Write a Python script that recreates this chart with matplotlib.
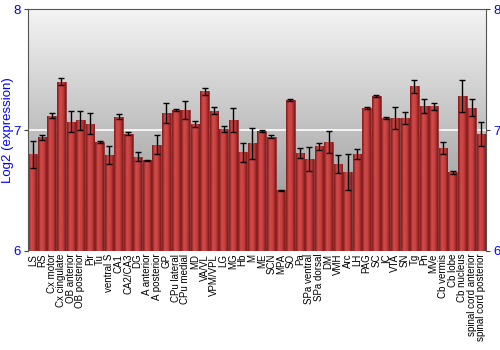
import numpy as np
import matplotlib
matplotlib.use("Agg")
import matplotlib.pyplot as plt
from matplotlib.colors import LinearSegmentedColormap

plt.rcParams["font.family"] = ["Liberation Sans", "DejaVu Sans"]

regions = ["LS", "RS", "Cx motor", "Cx cingulate", "OB anterior", "OB posterior", "Pir", "Tu",
           "ventral S", "CA1", "CA2/CA3", "DG", "A anterior", "A posterior", "GP", "CPu lateral",
           "CPu medial", "MD", "VA/VL", "VPM/VPL", "LG", "MG", "Hb", "M", "ME", "SCN", "MPA", "SO",
           "Pa", "SPa ventral", "SPa dorsal", "DM", "VMH", "Arc", "LH", "PAG", "SC", "IC", "VTA",
           "SN", "Tg", "Pn", "MVe", "Cb vermis", "Cb lobe", "Cb nucleus",
           "spinal cord anterior", "spinal cord posterior"]
expression = [6.80, 6.94, 7.12, 7.40, 7.07, 7.08, 7.05, 6.90,
              6.79, 7.11, 6.97, 6.78, 6.75, 6.88, 7.14, 7.165,
              7.165, 7.05, 7.32, 7.16, 7.005, 7.08, 6.815, 6.89, 6.99, 6.945, 6.50, 7.25,
              6.81, 6.76, 6.865, 6.90, 6.72, 6.65, 6.80, 7.18, 7.28, 7.10, 7.10,
              7.10, 7.36, 7.195, 7.195, 6.85, 6.65, 7.28,
              7.185, 6.97]
errors = [0.11, 0.02, 0.02, 0.03, 0.087, 0.08, 0.087, 0.01,
          0.075, 0.02, 0.015, 0.04, 0.003, 0.08, 0.08, 0.01,
          0.077, 0.025, 0.03, 0.03, 0.025, 0.10, 0.08, 0.13, 0.01, 0.01, 0.003, 0.01,
          0.04, 0.096, 0.03, 0.09, 0.077, 0.15, 0.04, 0.01, 0.01, 0.01, 0.09,
          0.05, 0.05, 0.058, 0.03, 0.05, 0.01, 0.135,
          0.07, 0.10]
yticks = [6, 7, 8]

blue = "#0000ff"
fig = plt.figure(figsize=(5, 3.5), dpi=100)
ax = fig.add_axes([0.056, 0.283, 0.916, 0.691])

x = np.arange(len(regions))
ax.set_xlim(-0.5, len(regions) - 0.5)
ax.set_ylim(6, 8)

# grey background gradient
bg = LinearSegmentedColormap.from_list("bg", ["#8a8a8a", "#f4f4f4"])
ax.imshow(np.linspace(0, 1, 256).reshape(-1, 1), cmap=bg, aspect="auto",
          extent=(-0.5, len(regions) - 0.5, 6, 8), origin="lower", zorder=0)
ax.axhline(7, color="white", lw=1.2, zorder=1)

bars = ax.bar(x, [v - 6 for v in expression], bottom=6, width=0.92,
              color="#b83636", edgecolor="#6e1414", linewidth=0.4, zorder=2)

# shading across each bar
shade = LinearSegmentedColormap.from_list("sh", ["#7e1a1a", "#d44c4c", "#c43e3e", "#7e1a1a"])
grad = np.linspace(0, 1, 64).reshape(1, -1)
for b in bars:
    im = ax.imshow(grad, cmap=shade, aspect="auto", zorder=2.5,
                   extent=(b.get_x(), b.get_x() + b.get_width(), 6, b.get_y() + b.get_height()))
    im.set_clip_path(b)

ax.errorbar(x, expression, yerr=errors, fmt="none", ecolor="black",
            elinewidth=1, capsize=2, capthick=1, zorder=3)

ax.set_yticks(yticks)
ax.set_yticklabels([str(t) for t in yticks])
ax.tick_params(axis="y", colors="#444444", labelcolor=blue, labelsize=9.5, length=3, pad=2,
               right=True, labelright=True)
ax.set_xticks(x)
ax.set_xticklabels(regions, rotation=90, fontsize=7)
ax.tick_params(axis="x", length=0, pad=2)
ax.set_ylabel("Log2 (expression)", color=blue, fontsize=9.5, labelpad=0)

for s in ["left", "right", "top"]:
    ax.spines[s].set_color("#555555")
    ax.spines[s].set_linewidth(0.8)
ax.spines["bottom"].set_visible(False)

fig.savefig("out.png", dpi=100)
